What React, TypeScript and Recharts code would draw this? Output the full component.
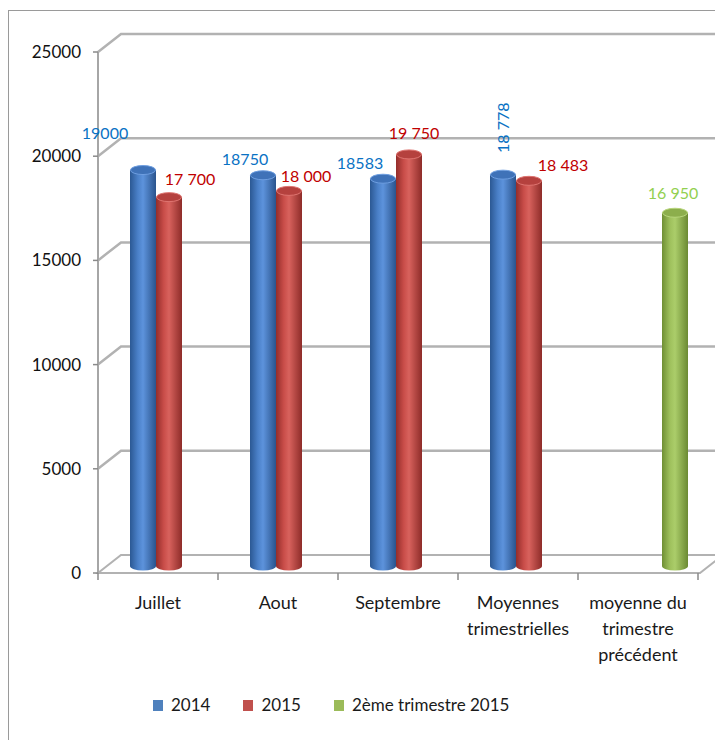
import React from "react";
import { BarChart, Bar, XAxis, YAxis, CartesianGrid, LabelList } from "recharts";

const categories = [
  "Juillet",
  "Aout",
  "Septembre",
  "Moyennes\ntrimestrielles",
  "moyenne du\ntrimestre\nprécédent",
];
const values2014 = [19000, 18750, 18583, 18778, null];
const values2015 = [17700, 18000, 19750, 18483, null];
const valuesT2 = [null, null, null, null, 16950];
const labels2014 = ["19000", "18750", "18583", "18 778", ""];
const labels2015 = ["17 700", "18 000", "19 750", "18 483", ""];
const labelsT2 = ["", "", "", "", "16 950"];
const yTicks = [0, 5000, 10000, 15000, 20000, 25000];
const seriesNames = ["2014", "2015", "2ème trimestre 2015"];

const data = categories.map((name, i) => ({
  name,
  v2014: values2014[i],
  v2015: values2015[i],
  vT2: valuesT2[i],
  l2014: labels2014[i],
  l2015: labels2015[i],
  lT2: labelsT2[i],
}));

// depth of the fake 3d box, and where the cylinders sit inside it
const DX = 23;
const DY = -18;
const BAR_DX = 11;
const BAR_DY = -7;
const GRID = "#b2b2b2";
const FONT = "Lato, 'Open Sans', sans-serif";

// hand placed label offsets [dx, dy, rotated]
const nudge2014: [number, number, boolean][] = [
  [-38, -45, false],
  [-18, -24, false],
  [-23, -23, false],
  [0, -54, true],
  [0, 0, false],
];
const nudge2015: [number, number, boolean][] = [
  [21, -26, false],
  [17, -22, false],
  [5, -29, false],
  [34, -23, false],
  [0, 0, false],
];
const nudgeT2: [number, number, boolean][] = [
  [0, 0, false],
  [0, 0, false],
  [0, 0, false],
  [0, 0, false],
  [-2, -27, false],
];

const tones: Record<string, { body: string[]; top: string; rim: string; legend: string }> = {
  blue: { body: ["#2b5893", "#4a80c8", "#5d93dc", "#2a548d"], top: "#3f72b8", rim: "#6e9ee0", legend: "#4f81bd" },
  red: { body: ["#932d2a", "#c94d49", "#d8625d", "#8e2c29"], top: "#b5413e", rim: "#de7470", legend: "#c0504d" },
  green: { body: ["#6f8f34", "#9ec05c", "#abcd6a", "#6b8a32"], top: "#8cae4c", rim: "#b8d67c", legend: "#9bbb59" },
};

function Cylinder(props: any) {
  const { x, y, width, height, tone } = props;
  if (!(height > 0) || !(width > 0)) return null;
  const x0 = x + BAR_DX;
  const x1 = x0 + width;
  const top = y + BAR_DY;
  const bottom = y + height + BAR_DY;
  const rx = width / 2;
  const ry = 4.5;
  return (
    <g>
      <path
        d={`M${x0},${top} L${x0},${bottom} A${rx},${ry} 0 0 0 ${x1},${bottom} L${x1},${top} Z`}
        fill={`url(#body-${tone})`}
      />
      <ellipse cx={x0 + rx} cy={top} rx={rx - 0.5} ry={ry} fill={tones[tone].top} stroke={tones[tone].rim} strokeWidth={1} />
    </g>
  );
}

function makeLabel(nudges: [number, number, boolean][], texts: string[], color: string) {
  return (p: any) => {
    const text = p.value;
    if (!text) return null;
    const vb = p.viewBox || p;
    const i = texts.indexOf(text);
    const [nx, ny, rot] = nudges[i] || [0, -20, false];
    const cx = vb.x + vb.width / 2 + BAR_DX + nx;
    const cy = vb.y + ny;
    return (
      <text
        x={cx}
        y={cy}
        textAnchor="middle"
        dominantBaseline="central"
        fill={color}
        fontSize={16}
        fontFamily={FONT}
        transform={rot ? `rotate(-90 ${cx} ${cy})` : undefined}
      >
        {text}
      </text>
    );
  };
}

function CategoryTick(props: any) {
  const { x, y, payload } = props;
  const lines = String(payload.value).split("\n");
  return (
    <g>
      {lines.map((line, i) => (
        <text key={i} x={x} y={y + 36 + i * 26} textAnchor="middle" fill="#1a1a1a" fontSize={18} fontFamily={FONT}>
          {line}
        </text>
      ))}
    </g>
  );
}

function gridH(p: any) {
  const { x1, y1, x2, y, height, key } = p;
  if (Math.abs(y1 - (y + height)) < 0.5) {
    return (
      <polygon
        key={key}
        points={`${x1},${y1} ${x2 + 2},${y1} ${x2 + 2 + DX},${y1 + DY} ${x1 + DX},${y1 + DY}`}
        fill="none"
        stroke={GRID}
        strokeWidth={2}
      />
    );
  }
  return (
    <polyline
      key={key}
      points={`${x1},${y1} ${x1 + DX},${y1 + DY} ${x2 + 80},${y1 + DY}`}
      fill="none"
      stroke={GRID}
      strokeWidth={2.5}
    />
  );
}

function gridV(p: any) {
  const { x1, y2, key } = p;
  return <line key={key} x1={x1} x2={x1} y1={y2} y2={y2 + 7} stroke="#8a8a8a" strokeWidth={1.5} />;
}

const legendColors = [tones.blue.legend, tones.red.legend, tones.green.legend];

export default function App() {
  return (
    <div style={{ paddingTop: 2 }}>
      <div
        style={{
          position: "relative",
          width: 714,
          height: 729,
          borderTop: "1px solid #9a9a9a",
          borderLeft: "1px solid #9a9a9a",
          overflow: "hidden",
          background: "#fff",
        }}
      >
        <BarChart
          width={714}
          height={729}
          data={data}
          margin={{ top: 41, right: 25, bottom: 0, left: 0 }}
          barGap={0}
          barSize={26}
        >
          <defs>
            {Object.keys(tones).map((t) => (
              <linearGradient key={t} id={`body-${t}`} x1="0" y1="0" x2="1" y2="0">
                <stop offset="0" stopColor={tones[t].body[0]} />
                <stop offset="0.3" stopColor={tones[t].body[1]} />
                <stop offset="0.5" stopColor={tones[t].body[2]} />
                <stop offset="1" stopColor={tones[t].body[3]} />
              </linearGradient>
            ))}
          </defs>
          <CartesianGrid
            horizontal={gridH}
            vertical={gridV}
            verticalCoordinatesGenerator={({ offset }: any) =>
              categories.map((_, i) => offset.left + (i * offset.width) / categories.length).concat(offset.left + offset.width)
            }
          />
          <XAxis
            dataKey="name"
            interval={0}
            height={167}
            axisLine={false}
            tickLine={false}
            tickSize={0}
            tickMargin={0}
            tick={<CategoryTick />}
          />
          <YAxis
            width={89}
            domain={[0, 25000]}
            ticks={yTicks}
            interval={0}
            axisLine={{ stroke: "#a6a6a6", strokeWidth: 2 }}
            tickLine={{ stroke: "#8a8a8a", strokeWidth: 1.5 }}
            tickSize={5}
            tickMargin={12}
            tick={{ fill: "#111", fontSize: 17, fontFamily: FONT }}
          />
          <Bar dataKey="v2014" name={seriesNames[0]} fill={tones.blue.legend} isAnimationActive={false} shape={(p: any) => <Cylinder {...p} tone="blue" />}>
            <LabelList dataKey="l2014" content={makeLabel(nudge2014, labels2014, "#0a72c4")} />
          </Bar>
          <Bar dataKey="v2015" name={seriesNames[1]} fill={tones.red.legend} isAnimationActive={false} shape={(p: any) => <Cylinder {...p} tone="red" />}>
            <LabelList dataKey="l2015" content={makeLabel(nudge2015, labels2015, "#c00000")} />
          </Bar>
          <Bar dataKey="vT2" name={seriesNames[2]} fill={tones.green.legend} isAnimationActive={false} shape={(p: any) => <Cylinder {...p} tone="green" />}>
            <LabelList dataKey="lT2" content={makeLabel(nudgeT2, labelsT2, "#92d050")} />
          </Bar>
        </BarChart>
        <div
          style={{
            position: "absolute",
            top: 684,
            left: 144,
            display: "flex",
            alignItems: "center",
            gap: 33,
            fontFamily: FONT,
            fontSize: 17,
            color: "#1a1a1a",
            lineHeight: "20px",
          }}
        >
          {seriesNames.map((n, i) => (
            <div key={n} style={{ display: "flex", alignItems: "center" }}>
              <span style={{ width: 10, height: 11, background: legendColors[i], marginRight: 8, display: "inline-block" }} />
              <span>{n}</span>
            </div>
          ))}
        </div>
      </div>
    </div>
  );
}
